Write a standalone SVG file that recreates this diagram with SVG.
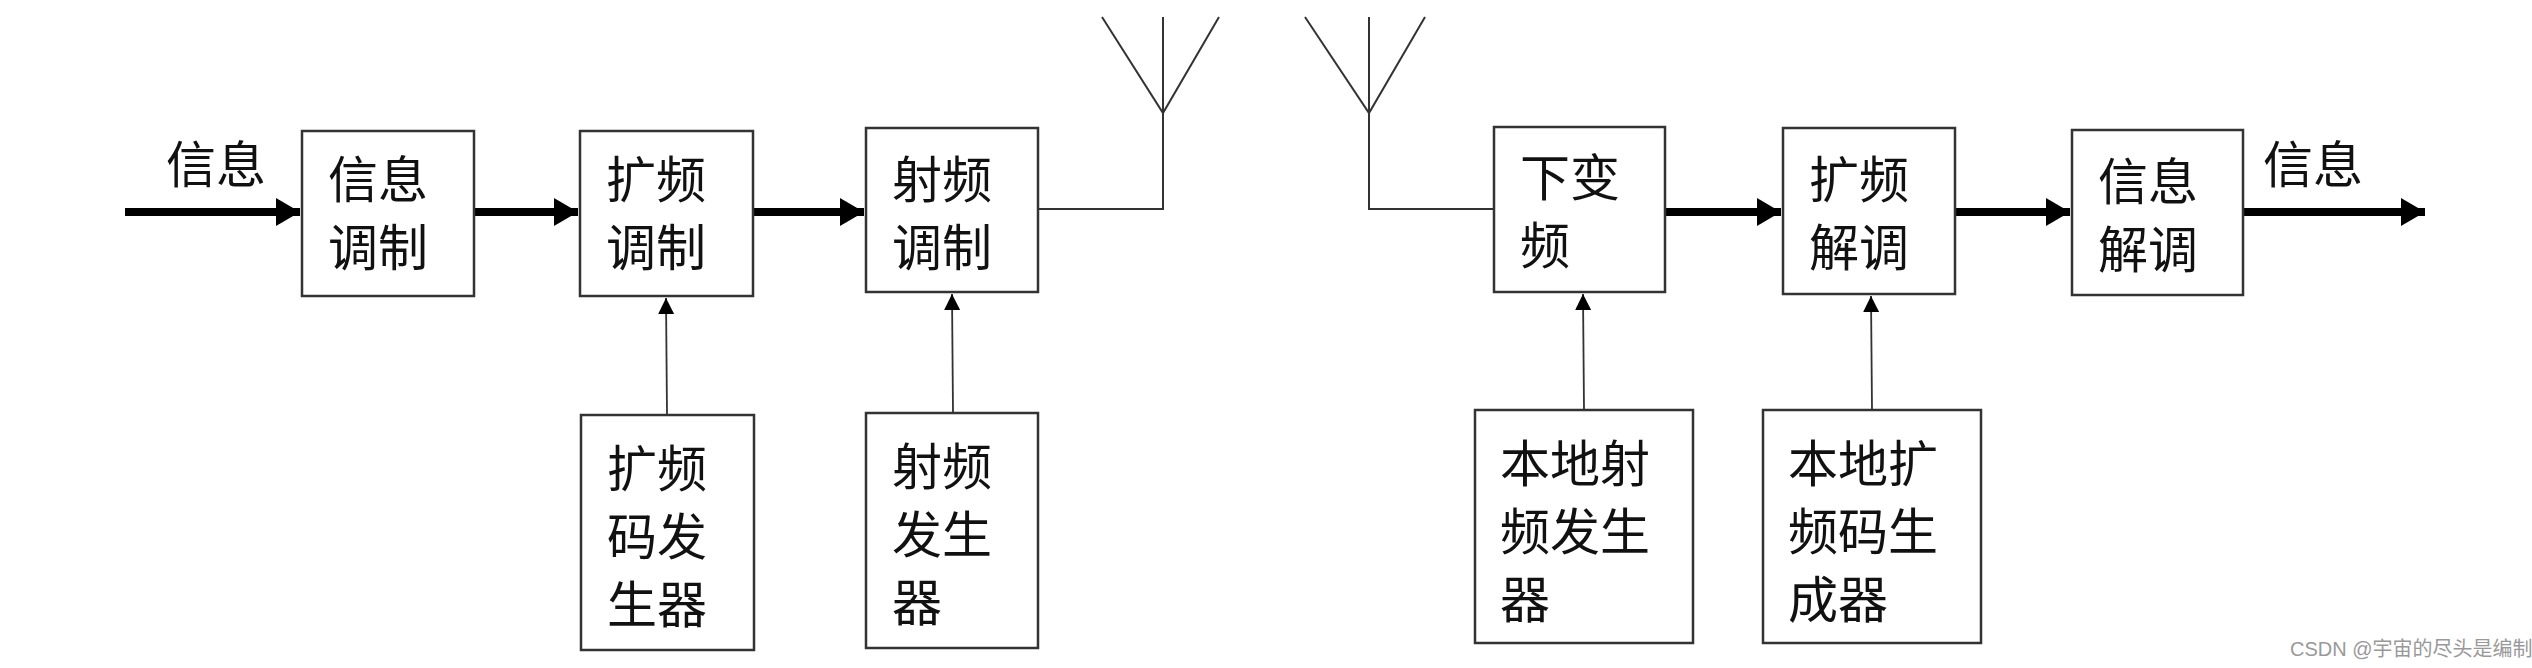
<svg xmlns="http://www.w3.org/2000/svg" width="2532" height="668" viewBox="0 0 2532 668">
<style>
.box{fill:#fff;stroke:#333;stroke-width:2.5}
text{font-family:"Liberation Sans","Noto Sans CJK SC",sans-serif;font-size:50px;fill:#111}
.thick{stroke:#000;stroke-width:8;fill:none;marker-end:url(#big)}
.thin{stroke:#333;stroke-width:1.8;fill:none;marker-end:url(#small)}
.wire{stroke:#333;stroke-width:2;fill:none}
</style>
<defs>
<marker id="big" markerUnits="userSpaceOnUse" markerWidth="24" markerHeight="28" refX="24" refY="14" orient="auto"><path d="M0,0L24,14L0,28z" fill="#000"/></marker>
<marker id="small" markerUnits="userSpaceOnUse" markerWidth="16" markerHeight="24" refX="16" refY="8" orient="auto"><path d="M0,0L16,8L0,16z" fill="#000"/></marker>
</defs>
<rect width="2532" height="668" fill="#fff"/>
<g id="connectors">
<line class="thick" x1="125" y1="212" x2="300" y2="212"/>
<line class="thick" x1="474" y1="212" x2="578" y2="212"/>
<line class="thick" x1="753" y1="212" x2="864" y2="212"/>
<line class="thin" x1="667" y1="415" x2="666" y2="298"/>
<line class="thin" x1="953" y1="413" x2="952" y2="294"/>
<polyline class="wire" points="1038,209 1163,209 1163,17"/>
<polyline class="wire" points="1102,17 1163,113 1219,17"/>
<polyline class="wire" points="1494,209 1369,209 1369,17"/>
<polyline class="wire" points="1305,17 1369,113 1425,17"/>
<line class="thick" x1="1665" y1="212" x2="1781" y2="212"/>
<line class="thick" x1="1955" y1="212" x2="2070" y2="212"/>
<line class="thick" x1="2243" y1="212" x2="2425" y2="212"/>
<line class="thin" x1="1584" y1="410" x2="1583" y2="294"/>
<line class="thin" x1="1872" y1="410" x2="1871" y2="296"/>
</g>
<text x="166" y="183">信息</text>
<text x="2263" y="183">信息</text>
<g id="n1"><rect class="box" x="302" y="131" width="172" height="165"/><text x="328" y="198">信息</text><text x="328" y="266">调制</text></g>
<g id="n2"><rect class="box" x="580" y="131" width="173" height="165"/><text x="606" y="198">扩频</text><text x="606" y="266">调制</text></g>
<g id="n3"><rect class="box" x="866" y="128" width="172" height="164"/><text x="892" y="198">射频</text><text x="892" y="266">调制</text></g>
<g id="n4"><rect class="box" x="581" y="415" width="173" height="235"/><text x="607" y="487">扩频</text><text x="607" y="555">码发</text><text x="607" y="623">生器</text></g>
<g id="n5"><rect class="box" x="866" y="413" width="172" height="235"/><text x="892" y="485">射频</text><text x="892" y="553">发生</text><text x="892" y="621">器</text></g>
<g id="n6"><rect class="box" x="1494" y="127" width="171" height="165"/><text x="1520" y="196">下变</text><text x="1520" y="264">频</text></g>
<g id="n7"><rect class="box" x="1783" y="128" width="172" height="166"/><text x="1809" y="198">扩频</text><text x="1809" y="266">解调</text></g>
<g id="n8"><rect class="box" x="2072" y="130" width="171" height="165"/><text x="2098" y="200">信息</text><text x="2098" y="268">解调</text></g>
<g id="n9"><rect class="box" x="1475" y="410" width="218" height="233"/><text x="1500" y="482">本地射</text><text x="1500" y="550">频发生</text><text x="1500" y="618">器</text></g>
<g id="n10"><rect class="box" x="1763" y="410" width="218" height="233"/><text x="1788" y="482">本地扩</text><text x="1788" y="550">频码生</text><text x="1788" y="618">成器</text></g>
<text x="2290" y="656" style="font-size:20px;fill:#999">CSDN @宇宙的尽头是编制</text>
</svg>
